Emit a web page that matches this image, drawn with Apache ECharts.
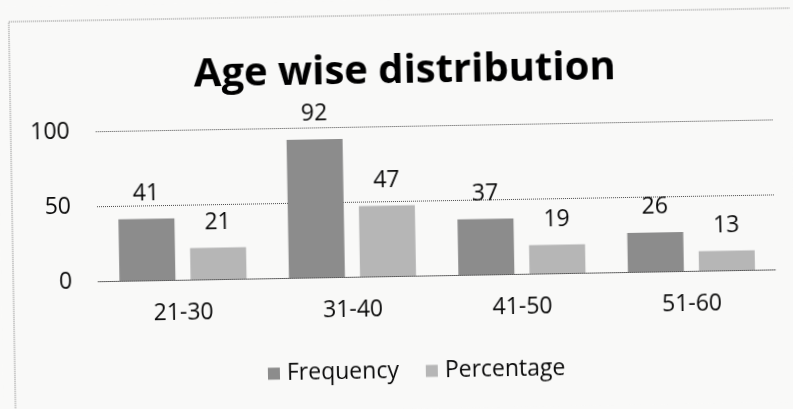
<!DOCTYPE html>
<html>
<head>
<meta charset="utf-8">
<script src="https://cdn.jsdelivr.net/npm/echarts@6/dist/echarts.min.js"></script>
<style>
  html, body { margin: 0; padding: 0; background: #f9f9f8; overflow: hidden; }
  #chart {
    width: 793px; height: 409px;
    transform: rotate(-1deg);
    transform-origin: 50% 50%;
  }
</style>
</head>
<body>
<div id="chart"></div>
<script>
// Age groups and their counts / shares
const categories = ['21-30', '31-40', '41-50', '51-60'];
const frequency = [41, 92, 37, 26];
const percentage = [21, 47, 19, 13];
const yTicks = { min: 0, max: 100, interval: 50 };

const font = '"Open Sans", "Noto Sans", sans-serif';
const ink = '#0a0a0a';
const rule = '#4a4a4a';

const chart = echarts.init(document.getElementById('chart'), null, { renderer: 'canvas' });

const labelStyle = {
  show: true,
  position: 'top',
  distance: 14,
  color: ink,
  fontFamily: font,
  fontSize: 23
};

chart.setOption({
  backgroundColor: '#f9f9f8',
  animation: false,
  title: {
    text: 'Age wise distribution',
    left: 402,
    top: 47,
    textAlign: 'center',
    textStyle: { fontFamily: font, fontWeight: 'bold', fontSize: 40, color: '#000' }
  },
  graphic: [{
    type: 'rect',
    shape: { x: 12, y: 15, width: 820, height: 430 },
    style: { fill: null, stroke: '#7a7a7a', lineWidth: 1, lineDash: [1, 1] },
    silent: true
  }],
  legend: {
    left: 260,
    top: 355,
    itemWidth: 12,
    itemHeight: 12,
    itemGap: 27,
    icon: 'rect',
    textStyle: { fontFamily: font, fontSize: 23, color: ink, padding: [0, 0, 0, 2] },
    data: ['Frequency', 'Percentage']
  },
  grid: { left: 97, right: 18, top: 126, bottom: 133 },
  xAxis: {
    type: 'category',
    data: categories,
    axisTick: { show: false },
    axisLine: { show: true, lineStyle: { color: rule, type: [1, 1], width: 1 } },
    axisLabel: { margin: 22, color: ink, fontFamily: font, fontSize: 23 }
  },
  yAxis: {
    type: 'value',
    min: yTicks.min,
    max: yTicks.max,
    interval: yTicks.interval,
    axisLine: { show: false },
    axisTick: { show: false },
    splitLine: { lineStyle: { color: rule, type: [1, 1], width: 1 } },
    axisLabel: { margin: 26, color: ink, fontFamily: font, fontSize: 23 }
  },
  series: [
    {
      name: 'Frequency',
      type: 'bar',
      data: frequency,
      barGap: '27%',
      barCategoryGap: '25%',
      itemStyle: { color: '#8c8c8c' },
      label: labelStyle
    },
    {
      name: 'Percentage',
      type: 'bar',
      data: percentage,
      itemStyle: { color: '#b6b6b6' },
      label: labelStyle
    }
  ]
});
</script>
</body>
</html>
